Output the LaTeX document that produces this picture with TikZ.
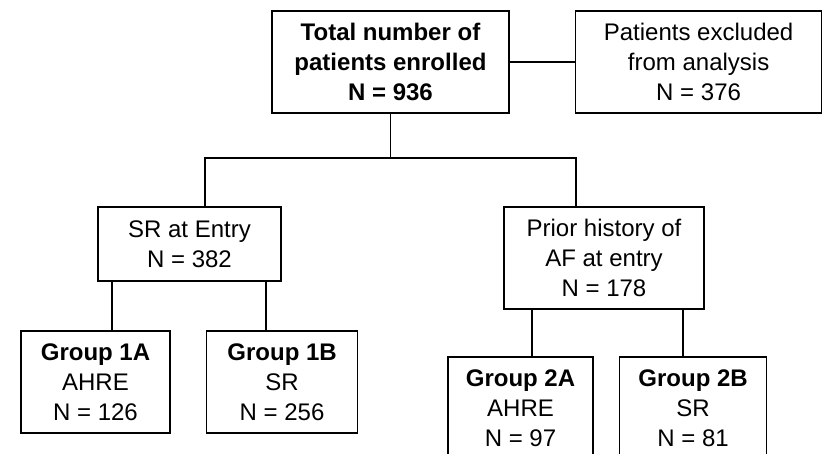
\documentclass[tikz,border=0pt]{standalone}
\usepackage{fontspec}
\setmainfont{Liberation Sans}
\usetikzlibrary{positioning,calc}

\begin{document}
\begin{tikzpicture}[x=1pt, y=1pt, font=\fontsize{24}{30}\selectfont,
      box/.style={draw, line width=1.6pt, align=center, inner sep=0pt,
                  minimum height=102pt},
      link/.style={line width=1.6pt}
    ]
    \useasboundingbox (0,0) rectangle (822,454);

    % top row
    \node[box, minimum width=237pt] (total) at (390.5,392)
      {\textbf{Total number of}\\\textbf{patients enrolled}\\\textbf{N = 936}};
    \node[box, minimum width=246pt, right=65pt of total] (excl)
      {Patients excluded\\from analysis\\N = 376};

    % second row
    \node[box, minimum width=183pt, minimum height=74pt] (sr) at (189.5,210)
      {SR at Entry\\N = 382};
    \node[box, minimum width=200pt] (prior) at (604,196)
      {Prior history of\\AF at entry\\N = 178};

    % groups
    \node[box, minimum width=149pt] (g1a) at (95.5,72)
      {\textbf{Group 1A}\\AHRE\\N = 126};
    \node[box, minimum width=151pt, right=35pt of g1a] (g1b)
      {\textbf{Group 1B}\\SR\\N = 256};
    \node[box, minimum width=145pt] (g2a) at (520.5,46)
      {\textbf{Group 2A}\\AHRE\\N = 97};
    \node[box, minimum width=147pt, right=25pt of g2a] (g2b)
      {\textbf{Group 2B}\\SR\\N = 81};

    \coordinate (barL) at (205,296);
    \coordinate (barR) at (576,296);

    \draw[link] (total) -- (excl);
    \draw[link] (total.south) -- (total.south |- barL);
    \draw[link] (sr.north -| barL) -- (barL) -- (barR) -- (prior.north -| barR);
    \draw[link] ([xshift=15pt]sr.south west) -- ([xshift=15pt]sr.south west |- g1a.north);
    \draw[link] ([xshift=-16pt]sr.south east) -- ([xshift=-16pt]sr.south east |- g1b.north);
    \draw[link] ([xshift=29pt]prior.south west) -- ([xshift=29pt]prior.south west |- g2a.north);
    \draw[link] ([xshift=-22pt]prior.south east) -- ([xshift=-22pt]prior.south east |- g2b.north);
  \end{tikzpicture}
\end{document}
